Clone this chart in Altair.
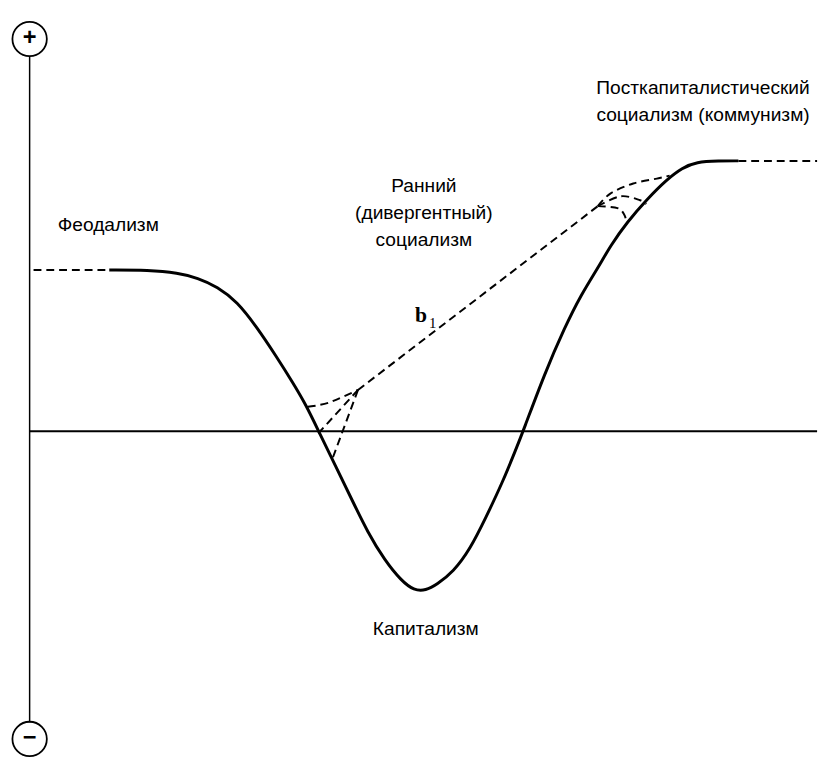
import altair as alt
import pandas as pd

# ---- data (image-pixel coordinates) ----
curve_x = [110, 150, 180, 200, 220, 240, 260, 280, 297, 310, 323, 340, 357, 373, 390, 407, 420, 432,
           443, 460, 477, 493, 510, 523, 531, 553, 573, 590, 607, 620, 637, 657, 677, 693, 707, 730, 750]
curve_y = [268, 268, 271, 276, 285, 300, 326, 356, 383, 405, 432, 467, 502, 535, 563, 584, 594, 594,
           588, 575, 552, 520, 484, 452, 432, 373, 327, 293, 266, 243, 219, 196, 176, 164, 158, 157, 157]

dash_lin_series = ["feud", "feud", "main", "main", "ls", "ls", "ls2", "ls2", "tail", "tail"]
dash_lin_x = [33, 110, 363, 607, 363, 320, 363, 337, 750, 830]
dash_lin_y = [268, 268, 390, 203, 390, 437, 390, 460, 157, 157]

dash_arc_series = ["la", "la", "la", "ru", "ru", "ru", "ru", "ru", "rm", "rm", "rm", "rm", "rl", "rl", "rl", "rl"]
dash_arc_x = [312, 333, 363, 607, 620, 643, 667, 680, 607, 630, 650, 656, 607, 627, 634, 636]
dash_arc_y = [407, 403, 390, 203, 190, 180, 175, 172, 203, 193, 197, 201, 203, 205, 212, 220]

axis_h_x = [29, 830]
axis_h_y = [432, 432]
axis_v_x = [29, 29]
axis_v_y = [51, 728]

circle_x = [29, 29]
circle_y = [33, 745]
sign_text = ["+", "\u2212"]

labels = ["Феодализм", "Ранний", "(дивергентный)", "социализм",
          "Посткапиталистический", "социализм (коммунизм)", "Капитализм"]
label_x = [109, 430, 430, 430, 714, 714, 432]
label_y = [222, 183, 210, 238, 83, 110, 633]

b_text = ["b"]
b_x = [427]
b_y = [314]
sub_text = ["1"]
sub_x = [439]
sub_y = [322]

# ---- scales ----
W, H = 814, 752
xs = alt.Scale(domain=[8, 8 + W])
ys = alt.Scale(domain=[8, 8 + H], reverse=True)
X = lambda: alt.X("x:Q", scale=xs, axis=None)
Y = lambda: alt.Y("y:Q", scale=ys, axis=None)

curve_df = pd.DataFrame({"x": curve_x, "y": curve_y, "i": range(len(curve_x))})
dl_df = pd.DataFrame({"x": dash_lin_x, "y": dash_lin_y, "s": dash_lin_series, "i": range(len(dash_lin_x))})
da_df = pd.DataFrame({"x": dash_arc_x, "y": dash_arc_y, "s": dash_arc_series, "i": range(len(dash_arc_x))})
ah_df = pd.DataFrame({"x": axis_h_x, "y": axis_h_y, "i": [0, 1]})
av_df = pd.DataFrame({"x": axis_v_x, "y": axis_v_y, "i": [0, 1]})
circ_df = pd.DataFrame({"x": circle_x, "y": circle_y, "t": sign_text})
lab_df = pd.DataFrame({"x": label_x, "y": label_y, "t": labels})
b_df = pd.DataFrame({"x": b_x, "y": b_y, "t": b_text})
sub_df = pd.DataFrame({"x": sub_x, "y": sub_y, "t": sub_text})

axis_h = alt.Chart(ah_df).mark_line(color="black", strokeWidth=1.8).encode(x=X(), y=Y(), order="i:Q")
axis_v = alt.Chart(av_df).mark_line(color="black", strokeWidth=1.5).encode(x=X(), y=Y(), order="i:Q")

curve = alt.Chart(curve_df).mark_line(color="black", strokeWidth=3, interpolate="basis").encode(
    x=X(), y=Y(), order="i:Q")

dash_lin = alt.Chart(dl_df).mark_line(color="black", strokeWidth=2, strokeDash=[8, 5]).encode(
    x=X(), y=Y(), detail="s:N", order="i:Q")
dash_arc = alt.Chart(da_df).mark_line(color="black", strokeWidth=2, strokeDash=[8, 5],
                                      interpolate="cardinal").encode(
    x=X(), y=Y(), detail="s:N", order="i:Q")

circles = alt.Chart(circ_df).mark_point(shape="circle", size=1225, filled=False, color="black",
                                        strokeWidth=1.8, opacity=1).encode(x=X(), y=Y())
signs = alt.Chart(circ_df).mark_text(fontSize=24, fontWeight="bold", font="Liberation Sans",
                                     baseline="middle", align="center", color="black", dy=-1).encode(
    x=X(), y=Y(), text="t:N")

texts = alt.Chart(lab_df).mark_text(fontSize=19.5, font="Liberation Sans Narrow, Liberation Sans",
                                    baseline="middle", align="center", color="black").encode(
    x=X(), y=Y(), text="t:N")

btext = alt.Chart(b_df).mark_text(fontSize=22, font="Liberation Serif", fontWeight="bold",
                                  baseline="middle", align="center", color="black").encode(
    x=X(), y=Y(), text="t:N")
subtext = alt.Chart(sub_df).mark_text(fontSize=15, font="Liberation Serif",
                                      baseline="middle", align="center", color="black").encode(
    x=X(), y=Y(), text="t:N")

chart = alt.layer(axis_h, axis_v, curve, dash_lin, dash_arc, circles, signs, texts, btext, subtext).properties(
    width=W, height=H, padding=0, background="white"
).configure_view(stroke=None)

chart.save("out.html", embed_options={"renderer": "svg", "actions": False})
